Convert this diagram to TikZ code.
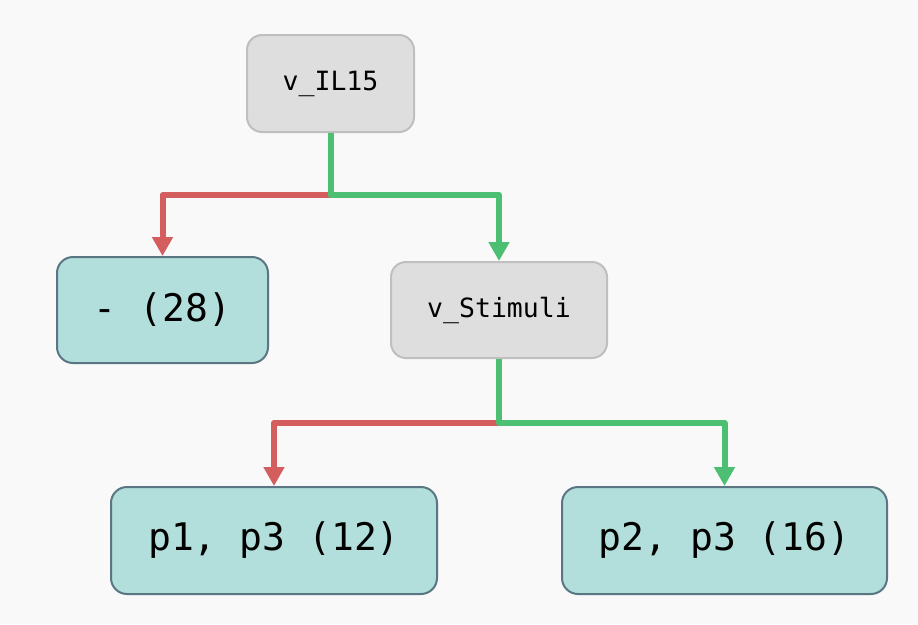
\documentclass[tikz,border=0pt]{standalone}
\usepackage{fontspec}
\setmonofont{DejaVu Sans Mono}
\usetikzlibrary{arrows.meta}
\definecolor{bgc}{HTML}{F9F9F9}
\definecolor{grayfill}{HTML}{DEDEDE}
\definecolor{grayline}{HTML}{BFBFBF}
\definecolor{tealfill}{HTML}{B2DFDB}
\definecolor{tealline}{HTML}{5B7683}
\definecolor{nored}{HTML}{D45D5D}
\definecolor{yesgreen}{HTML}{4CBF72}
\tikzset{
  decision/.style={draw=grayline, fill=grayfill, line width=2pt, rounded corners=15pt,
    inner sep=0pt, font=\ttfamily\fontsize{26.5}{31}\selectfont},
  leafbox/.style={draw=tealline, fill=tealfill, line width=2pt, rounded corners=16pt,
    inner sep=0pt, font=\ttfamily\fontsize{38}{45}\selectfont},
  edgeno/.style={draw=nored, line width=6pt, line join=round, -{Triangle[width=20pt,length=19pt]}},
  edgeyes/.style={draw=yesgreen, line width=6pt, line join=round, -{Triangle[width=20pt,length=19pt]}},
}
\begin{document}
\begin{tikzpicture}[x=1pt,y=-1pt]
\fill[bgc] (0,0) rectangle (918,624);
\useasboundingbox (0,0) rectangle (918,624);
\node[decision, minimum width=167pt, minimum height=97pt] (il15) at (330.5,83.5) {v\_IL15};
\node[leafbox, minimum width=211pt, minimum height=106pt] (l28) at (162.5,310) {- (28)};
\node[decision, minimum width=216pt, minimum height=96pt] (stim) at (499,310) {v\_Stimuli};
\node[leafbox, minimum width=326pt, minimum height=107pt] (l12) at (274,540.5) {p1, p3 (12)};
\node[leafbox, minimum width=325pt, minimum height=107pt] (l16) at (724.5,540.5) {p2, p3 (16)};
\coordinate (j1) at (330.5,195);
\coordinate (j2) at (499,423);
\draw[edgeno] (il15.south) -- (j1) -| (l28.north);
\draw[edgeyes] (il15.south) -- (j1) -| (stim.north);
\draw[edgeno] (stim.south) -- (j2) -| (l12.north);
\draw[edgeyes] (stim.south) -- (j2) -| (l16.north);
\end{tikzpicture}
\end{document}
